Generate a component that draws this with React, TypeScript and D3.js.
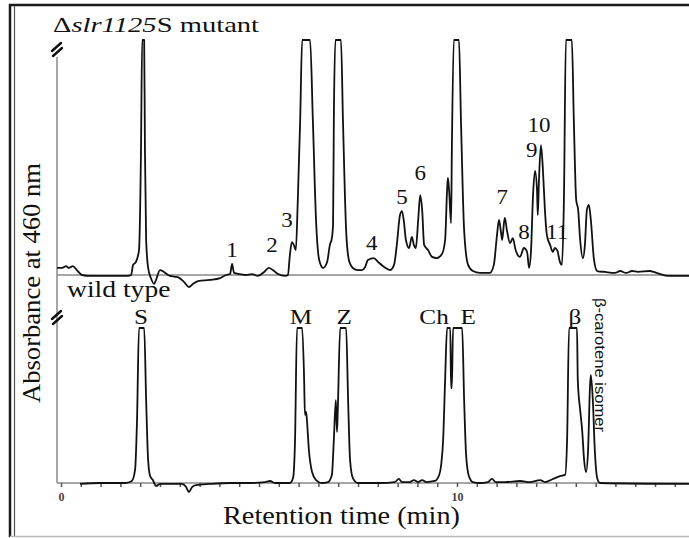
import React, { useEffect, useRef } from 'react';
import * as d3 from 'd3';

// retention time (min), relative absorbance (100 = off scale / clipped)
const mutantTrace: [number, number][] = [
  [-0.10, 3.0], [0.03, 3.0], [0.13, 3.8], [0.20, 3.0], [0.30, 3.8], [0.40, 2.1], [0.53, 0], [0.73, -0.4],
  [1.69, -0.4], [1.77, 0], [1.82, 4.3], [1.89, 5.5], [1.97, 10.6], [2.02, 53], [2.05, 100], [2.10, 100],
  [2.12, 53], [2.15, 15], [2.20, 3], [2.27, -1.3], [2.35, -3.8], [2.40, -2.1], [2.50, 2.1], [2.60, 1.3],
  [2.75, -0.4], [2.95, -0.9], [3.11, -3.0], [3.23, -5.1], [3.33, -3.8], [3.46, -2.6], [3.76, -2.1],
  [4.02, -1.3], [4.17, 0], [4.27, 0.4], [4.32, 4.7], [4.37, 0.9], [4.52, 0.4], [4.67, 0], [4.82, 0.4],
  [4.97, -0.4], [5.13, 1.3], [5.25, 3.0], [5.35, 2.1], [5.48, 0.4], [5.66, -0.4], [5.73, 0], [5.78, 8.5],
  [5.83, 14.0], [5.88, 12.8], [5.93, 10.6], [5.98, 31.9], [6.04, 66], [6.09, 100], [6.29, 100], [6.36, 66],
  [6.44, 23.4], [6.52, 6.4], [6.62, 3.0], [6.72, 5.5], [6.79, 12.8], [6.84, 15.7], [6.87, 21.3], [6.89, 66],
  [6.93, 100], [7.07, 100], [7.12, 66], [7.20, 19.1], [7.27, 6.4], [7.37, 3.0], [7.50, 2.1], [7.60, 2.1],
  [7.68, 3.4], [7.75, 6.4], [7.90, 7.2], [8.01, 5.5], [8.16, 3.4], [8.31, 2.1], [8.41, 4.3], [8.48, 12.8],
  [8.56, 25.5], [8.61, 27.2], [8.66, 22.6], [8.71, 14.9], [8.79, 11.5], [8.86, 16.2], [8.91, 12.8],
  [8.96, 11.5], [9.02, 23.4], [9.07, 34.0], [9.12, 27.7], [9.17, 12.8], [9.27, 10.6], [9.37, 7.7],
  [9.49, 7.2], [9.62, 8.9], [9.70, 14.9], [9.75, 36.2], [9.77, 41.3], [9.80, 36.2], [9.85, 22.1],
  [9.87, 53], [9.92, 100], [10.05, 100], [10.10, 66], [10.18, 19.1], [10.28, 4.3], [10.40, 1.7],
  [10.58, 0.9], [10.83, 0.9], [10.93, 4.3], [11.01, 17.0], [11.06, 23.4], [11.11, 18.3], [11.14, 14.9],
  [11.19, 22.6], [11.21, 24.3], [11.26, 19.1], [11.34, 13.6], [11.41, 15.7], [11.48, 10.6], [11.59, 7.7],
  [11.69, 11.5], [11.77, 9.8], [11.82, 3.0], [11.87, 10.6], [11.92, 34.0], [11.97, 44.3], [12.02, 36.2],
  [12.04, 25.5], [12.07, 40.4], [12.12, 55.3], [12.17, 44.7], [12.22, 27.7], [12.27, 17.0], [12.35, 12.8],
  [12.42, 9.8], [12.47, 11.5], [12.53, 10.6], [12.60, 5.5], [12.65, 4.3], [12.70, 31.9], [12.75, 100],
  [12.90, 100], [12.95, 66], [13.01, 31.9], [13.06, 27.7], [13.11, 14.9], [13.18, 7.2], [13.23, 12.8],
  [13.28, 27.7], [13.33, 29.8], [13.38, 23.4], [13.46, 6.4], [13.54, 1.7], [13.74, 1.3], [13.99, 0.9],
  [14.12, 1.7], [14.27, 0.9], [14.42, 1.7], [14.57, 1.3], [14.87, 1.7], [14.97, 1.3], [15.13, 0.4],
  [15.33, -0.4], [15.86, -0.4],
];

const wildTrace: [number, number][] = [
  [0.48, -0.6], [0.98, 0], [1.62, 0], [1.79, 1.3], [1.87, 8.4], [1.92, 40.6], [1.97, 100], [2.10, 100],
  [2.15, 53.5], [2.20, 14.8], [2.25, 4.5], [2.32, 1.9], [2.40, -1.9], [2.50, -0.6], [2.75, -0.6],
  [3.05, -0.6], [3.16, -2.6], [3.23, -5.8], [3.31, -2.6], [3.41, -1.3], [3.76, -0.6], [4.27, 0], [4.77, 0],
  [5.15, 0.6], [5.28, 1.3], [5.40, 0], [5.78, 0], [5.86, 3.2], [5.91, 27.7], [5.96, 100], [6.09, 100],
  [6.14, 66.5], [6.16, 43.9], [6.19, 45.8], [6.21, 40.6], [6.26, 21.3], [6.34, 7.1], [6.44, 1.9], [6.59, 0],
  [6.74, 0.6], [6.84, 5.2], [6.89, 27.7], [6.94, 53.5], [6.97, 32.9], [6.99, 47.1], [7.05, 100], [7.20, 100],
  [7.25, 53.5], [7.30, 14.8], [7.37, 3.2], [7.50, 0], [8.05, 0], [8.43, 0.6], [8.53, 2.6], [8.61, 0.6],
  [8.81, 0.6], [8.91, 1.9], [9.02, 0.6], [9.12, 1.9], [9.22, 0.6], [9.44, 1.3], [9.55, 5.2], [9.60, 11.6],
  [9.65, 27.7], [9.70, 66.5], [9.75, 100], [9.83, 100], [9.85, 61.3], [9.87, 61.3], [9.90, 100],
  [10.13, 100], [10.18, 53.5], [10.23, 18.1], [10.30, 4.5], [10.40, 0.6], [10.58, 0], [10.78, 0.6],
  [10.88, 2.6], [10.98, 0.6], [11.21, 0.6], [11.59, 1.3], [11.84, 0.6], [12.10, 1.9], [12.22, 0.6],
  [12.42, 2.6], [12.60, 4.5], [12.73, 5.2], [12.78, 27.7], [12.83, 100], [13.03, 100], [13.05, 66.5],
  [13.11, 47.1], [13.16, 34.2], [13.21, 14.8], [13.26, 7.1], [13.31, 21.3], [13.36, 63.2], [13.38, 69.7],
  [13.43, 53.5], [13.48, 21.3], [13.54, 3.2], [13.61, 0], [15.86, -0.6],
];

// peak numbers on the mutant trace: label, time, height of label baseline
const mutantPeaks: [string, number, number][] = [
  ['1', 4.32, 7.7], ['2', 5.33, 9.8], ['3', 5.71, 20.4], ['4', 7.85, 10.6], ['5', 8.61, 30.2],
  ['6', 9.07, 40.4], ['7', 11.14, 30.2], ['8', 11.69, 15.3], ['9', 11.89, 50.2], ['10', 12.07, 60.9],
  ['11', 12.53, 15.3],
];

const wildPeaks: [string, number][] = [
  ['S', 2.02], ['M', 6.06], ['Z', 7.15], ['Ch', 9.42], ['E', 10.28], ['β', 12.98],
];

const tickValues = d3.range(0, 15.6, 0.5);
const tickLabels = [0, 10];

const serif = '"Liberation Serif", "Times New Roman", serif';

const Lbl = ({ x, y, text, size = 21, sx = 1.22 }) => (
  <g transform={`translate(${x},${y}) scale(${sx},1)`}>
    <text textAnchor="middle" fontSize={size} fontFamily={serif} fill="#111">{text}</text>
  </g>
);

const Chromatogram = () => {
  const axisRef = useRef(null);
  const width = 689;
  const height = 538;

  const x = d3.scaleLinear().domain([0, 10]).range([61, 457]);
  const yTop = d3.scaleLinear().domain([0, 100]).range([275, 40]);
  const yBot = d3.scaleLinear().domain([0, 100]).range([483, 328]);

  const lineTop = d3.line<[number, number]>().x(d => x(d[0])).y(d => yTop(d[1])).curve(d3.curveMonotoneX);
  const lineBot = d3.line<[number, number]>().x(d => x(d[0])).y(d => yBot(d[1])).curve(d3.curveMonotoneX);

  useEffect(() => {
    const g = d3.select(axisRef.current);
    g.selectAll('*').remove();
    const axis = d3.axisBottom(x)
      .tickValues(tickValues)
      .tickSize(4)
      .tickFormat(d => (tickLabels.includes(+d) ? String(d) : ''));
    g.call(axis);
    g.select('.domain').remove();
    g.selectAll('.tick line').attr('stroke', '#555').attr('stroke-width', 1.5);
    g.selectAll('.tick text')
      .attr('font-family', serif)
      .attr('font-size', 12)
      .attr('font-weight', 'bold')
      .attr('fill', '#444')
      .attr('dy', '0.9em');
  }, []);

  const breakMark = (cy) => (
    <g stroke="#111" strokeWidth={2.4} strokeLinecap="round">
      <line x1={52} y1={cy + 1} x2={61} y2={cy - 7} />
      <line x1={53} y1={cy + 6} x2={62} y2={cy - 2} />
    </g>
  );

  return (
    <svg width={width} height={height} style={{ position: 'absolute', left: 0, top: 0, background: '#fff' }}>
      {/* frame */}
      <path d="M690,5 H10 V537" fill="none" stroke="#1a1a1a" strokeWidth={2.5} />
      <line x1={14.5} y1={6} x2={14.5} y2={536} stroke="#555" strokeWidth={1.2} />
      <line x1={10} y1={536.5} x2={689} y2={536.5} stroke="#bbb" strokeWidth={1.5} />

      {/* axes */}
      <line x1={57} y1={57} x2={57} y2={483} stroke="#888" strokeWidth={1.5} />
      <line x1={57} y1={yTop(0)} x2={689} y2={yTop(0)} stroke="#888" strokeWidth={1.5} />
      <line x1={57} y1={yBot(0)} x2={689} y2={yBot(0)} stroke="#888" strokeWidth={1.5} />
      <g ref={axisRef} transform={`translate(0,${yBot(0)})`} />
      {breakMark(50)}
      {breakMark(318)}

      {/* traces */}
      <path d={lineTop(mutantTrace)} fill="none" stroke="#111" strokeWidth={1.8} strokeLinejoin="round" />
      <path d={lineBot(wildTrace)} fill="none" stroke="#111" strokeWidth={1.8} strokeLinejoin="round" />

      {/* titles */}
      <g transform="translate(53,32) scale(1.3,1)">
        <text fontSize={22} fontFamily={serif} fill="#111">
          Δ<tspan fontStyle="italic">slr1125</tspan>S mutant
        </text>
      </g>
      <g transform="translate(67,297) scale(1.2,1)">
        <text fontSize={23} fontFamily={serif} fill="#111">wild type</text>
      </g>

      {mutantPeaks.map(([l, t, v]) => (
        <Lbl key={l} x={x(t)} y={yTop(v)} text={l} size={20} sx={1.15} />
      ))}
      {wildPeaks.map(([l, t]) => (
        <Lbl key={l} x={x(t)} y={yBot(102.6)} text={l} size={21} sx={1.2} />
      ))}

      <text
        transform={`translate(${x(13.4)},298) rotate(90)`}
        fontSize={15}
        fontFamily='"Liberation Sans", Arial, sans-serif'
        fill="#111"
        textLength={134}
        lengthAdjust="spacingAndGlyphs"
        dy="-0.2em"
      >β-carotene isomer</text>

      <text
        transform="translate(40,283) rotate(-90)"
        textAnchor="middle"
        fontSize={26}
        fontFamily={serif}
        fill="#111"
        textLength={240}
        lengthAdjust="spacingAndGlyphs"
      >Absorbance at 460 nm</text>

      <text
        x={341.5}
        y={524}
        textAnchor="middle"
        fontSize={26}
        fontFamily={serif}
        fill="#111"
        textLength={237}
        lengthAdjust="spacingAndGlyphs"
      >Retention time (min)</text>
    </svg>
  );
};

export default function App() {
  return <Chromatogram />;
}
